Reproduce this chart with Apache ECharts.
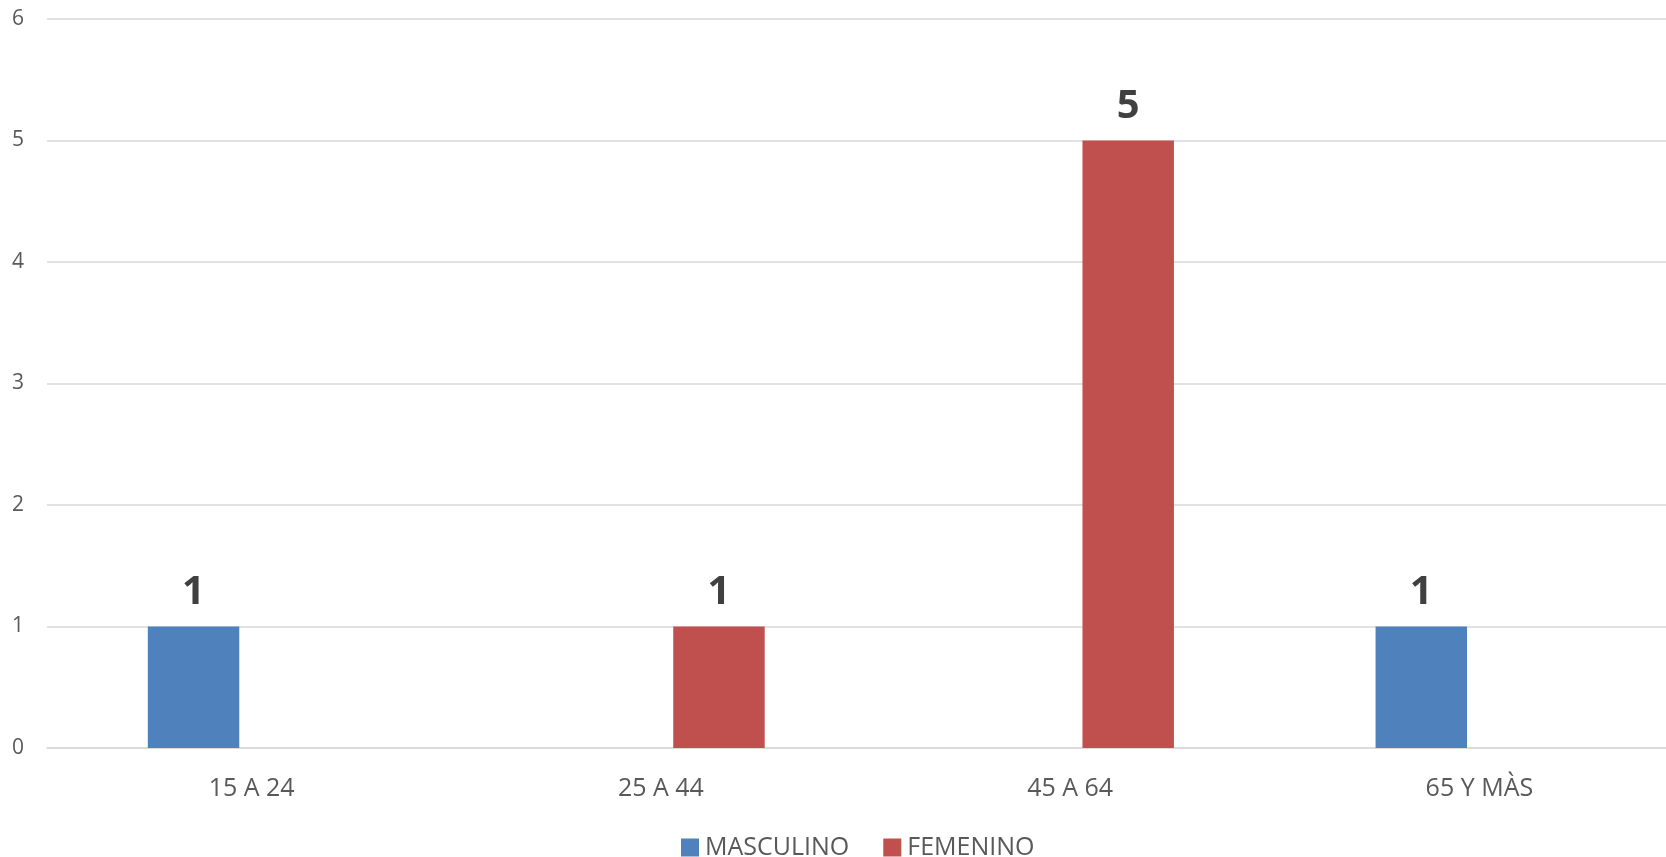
<!DOCTYPE html>
<html>
<head>
<meta charset="utf-8">
<script src="https://cdn.jsdelivr.net/npm/echarts@6/dist/echarts.min.js"></script>
<style>
html,body{margin:0;padding:0;background:#fff;overflow:hidden;width:1666px;height:857px;}
#chart{width:1684px;height:857px;}
</style>
</head>
<body>
<div id="chart"></div>
<script>
const categories = ['15 A 24', '25 A 44', '45 A 64', '65 Y MÀS'];
const masculino = [1, 0, 0, 1];
const femenino = [0, 1, 5, 0];
const seriesNames = ['MASCULINO', 'FEMENINO'];
const yTicks = [0, 1, 2, 3, 4, 5, 6];

const chart = echarts.init(document.getElementById('chart'));
const labelOpt = {
  show: true,
  position: 'top',
  distance: 14,
  fontFamily: 'Open Sans',
  fontWeight: 'bold',
  fontSize: 40,
  color: '#404040',
  formatter: p => (p.value ? String(p.value) : '')
};
chart.setOption({
  animation: false,
  backgroundColor: '#ffffff',
  textStyle: { fontFamily: 'Open Sans' },
  grid: { left: 47, right: 0, top: 19, bottom: 109, containLabel: false, outerBoundsMode: 'none' },
  legend: {
    data: seriesNames,
    left: 681,
    top: 835,
    padding: 0,
    itemWidth: 18,
    itemHeight: 18,
    itemGap: 34,
    icon: 'rect',
    textStyle: { fontFamily: 'Open Sans', fontSize: 25, color: '#595959', padding: [0, 0, 0, 1] }
  },
  xAxis: {
    type: 'category',
    data: categories,
    axisLine: { show: true, lineStyle: { color: '#d9d9d9', width: 1.5 } },
    axisTick: { show: false },
    axisLabel: { fontFamily: 'Open Sans', fontSize: 25, color: '#595959', margin: 28 },
    splitLine: { show: false }
  },
  yAxis: {
    type: 'value',
    min: yTicks[0],
    max: yTicks[yTicks.length - 1],
    interval: 1,
    axisLine: { show: false },
    axisTick: { show: false },
    axisLabel: { fontFamily: 'Open Sans', fontSize: 21, color: '#595959', margin: 23 },
    splitLine: { lineStyle: { color: '#d9d9d9', width: 1.5 } }
  },
  series: [
    {
      name: seriesNames[0],
      type: 'bar',
      data: masculino,
      barWidth: '22.35%',
      barGap: '27%',
      itemStyle: { color: '#4F81BD' },
      label: labelOpt
    },
    {
      name: seriesNames[1],
      type: 'bar',
      data: femenino,
      barWidth: '22.35%',
      barGap: '27%',
      itemStyle: { color: '#C0504D' },
      label: labelOpt
    }
  ]
});
</script>
</body>
</html>
